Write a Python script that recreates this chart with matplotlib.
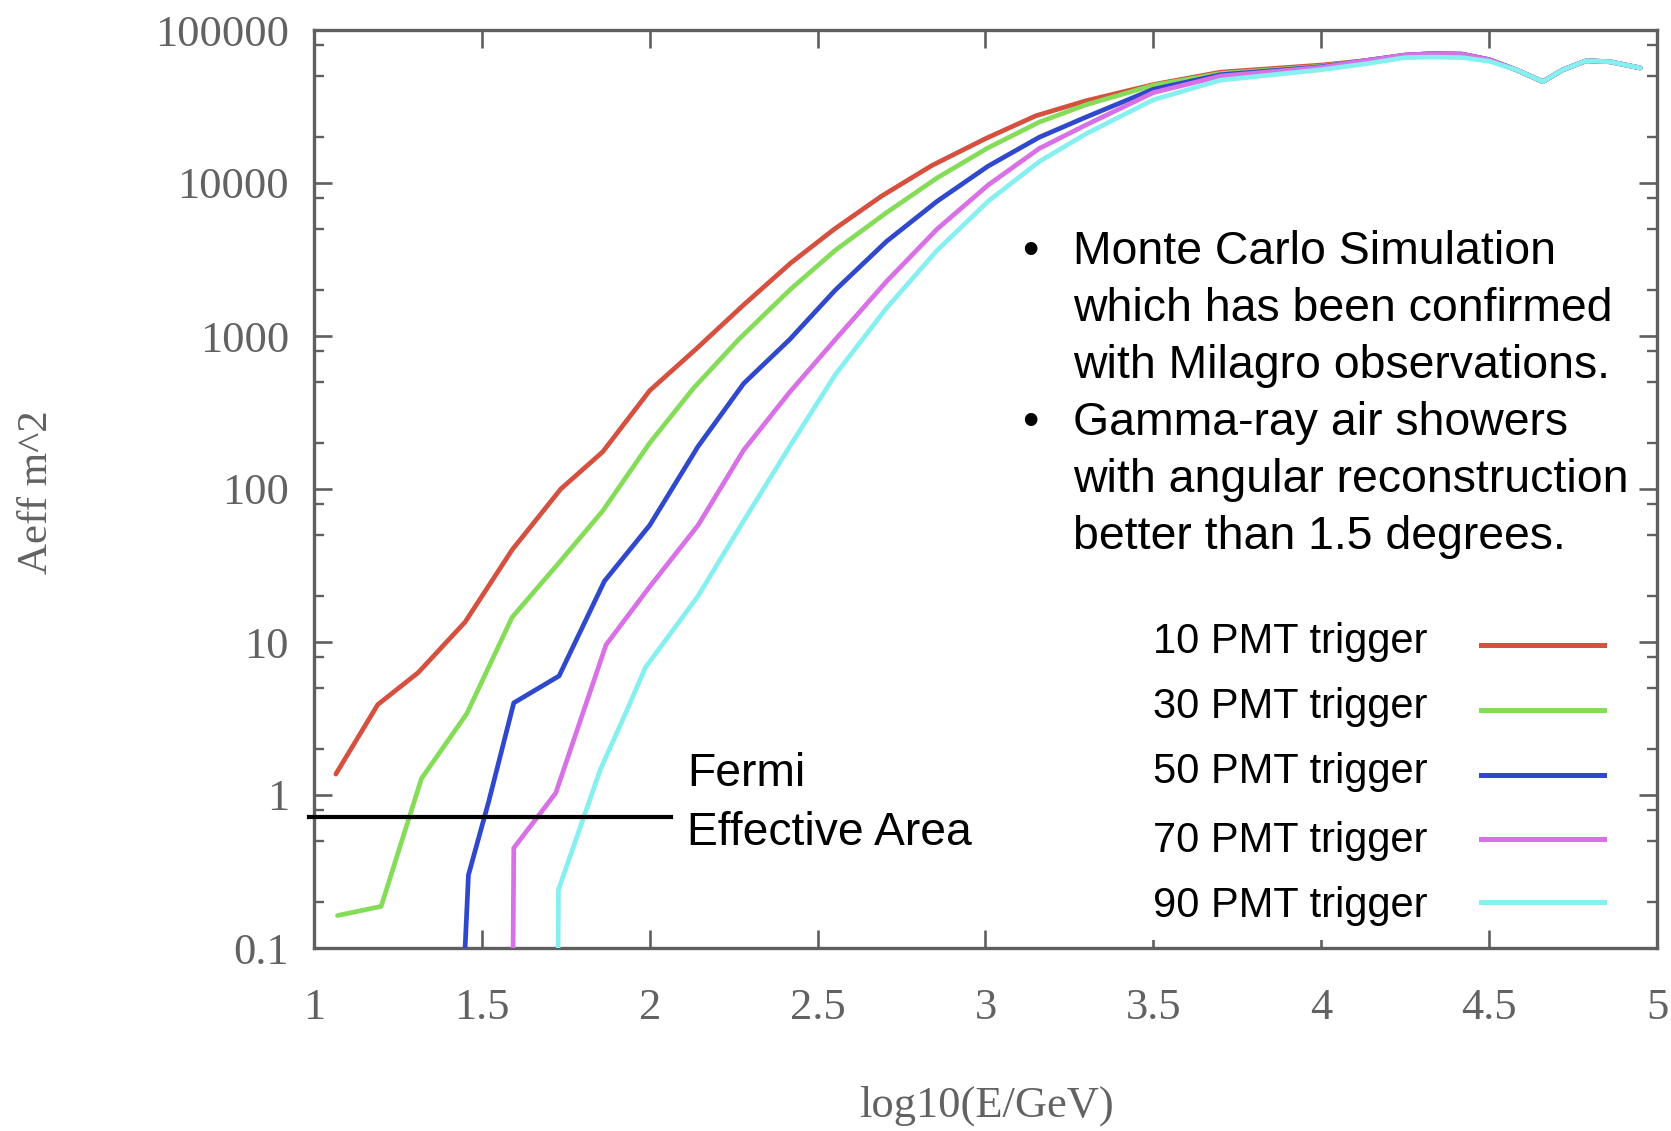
import matplotlib
matplotlib.use("Agg")
import matplotlib.pyplot as plt
from matplotlib.ticker import FixedLocator, FixedFormatter, NullFormatter
from matplotlib.patches import Rectangle
from matplotlib.lines import Line2D

# ---------------- data ----------------
labels = ["10 PMT trigger", "30 PMT trigger", "50 PMT trigger",
          "70 PMT trigger", "90 PMT trigger"]
colors = ["#d5503e", "#84dc58", "#2f48cc", "#d870e6", "#86efef"]

tail_x = [4.13, 4.25, 4.33, 4.42, 4.5, 4.58, 4.66, 4.72, 4.79, 4.86, 4.95]
tail_y = [63000, 68500, 70000, 69500, 64000, 55000, 46000, 55000, 63000, 62000, 56500]

x10 = [1.065, 1.19, 1.31, 1.45, 1.59, 1.735, 1.86, 2.0, 2.14, 2.28, 2.42, 2.55,
       2.69, 2.84, 3.0, 3.15, 3.3, 3.5, 3.7, 4.0] + tail_x
y10 = [1.37, 3.9, 6.3, 13.5, 40, 100, 175, 440, 830, 1600, 3000, 5000,
       8200, 13000, 19500, 27500, 34500, 44000, 53000, 59000] + tail_y

x30 = [1.07, 1.2, 1.32, 1.455, 1.59, 1.735, 1.86, 2.0, 2.13, 2.265, 2.417, 2.553,
       2.705, 2.856, 3.008, 3.16, 3.3, 3.5, 3.7, 4.0] + tail_x
y30 = [0.163, 0.187, 1.28, 3.4, 14.5, 34, 72, 200, 455, 950, 2000, 3640,
       6400, 10800, 17000, 25000, 32500, 43500, 52000, 58000] + tail_y

x50 = [1.45, 1.46, 1.52, 1.595, 1.73, 1.865, 2.0, 2.144, 2.28, 2.417, 2.553,
       2.705, 2.856, 3.008, 3.16, 3.3, 3.5, 3.7, 4.0] + tail_x
y50 = [0.1, 0.3, 0.9, 4.0, 6.0, 25, 58, 190, 490, 950, 2000,
       4150, 7600, 12900, 19900, 27000, 41000, 51000, 57500] + tail_y

x70 = [1.593, 1.595, 1.72, 1.87, 2.0, 2.144, 2.28, 2.417, 2.553, 2.705, 2.856,
       3.008, 3.16, 3.3, 3.5, 3.7, 4.0] + tail_x
y70 = [0.1, 0.45, 1.03, 9.6, 23, 58, 180, 430, 950, 2270, 5000,
       9700, 16800, 24000, 39000, 50000, 57000] + tail_y

x90 = [1.727, 1.728, 1.853, 1.93, 1.987, 2.144, 2.28, 2.417, 2.553, 2.705, 2.856,
       3.008, 3.16, 3.3, 3.5, 3.7, 4.0, 4.13, 4.25, 4.33, 4.42, 4.5, 4.58, 4.66,
       4.72, 4.79, 4.86, 4.95]
y90 = [0.1, 0.24, 1.47, 3.5, 6.8, 20, 62, 190, 560, 1520, 3630,
       7600, 13800, 21000, 35000, 47000, 55000, 60000, 66000, 66500, 66000, 62500,
       55000, 46000, 55000, 63000, 62000, 56500]

series_x = [x10, x30, x50, x70, x90]
series_y = [y10, y30, y50, y70, y90]

fermi_x = [0.985, 2.063]
fermi_y = [0.713, 0.713]

xticks = [1, 1.5, 2, 2.5, 3, 3.5, 4, 4.5, 5]
xticklabels = ["1", "1.5", "2", "2.5", "3", "3.5", "4", "4.5", "5"]
yticks = [0.1, 1, 10, 100, 1000, 10000, 100000]
yticklabels = ["0.1", "1", "10", "100", "1000", "10000", "100000"]
yminor = [m * 10.0 ** k for k in range(-1, 5) for m in (2, 5, 8)]

bullets = ["Monte Carlo Simulation", "which has been confirmed",
           "with Milagro observations.", "Gamma-ray air showers",
           "with angular reconstruction", "better than 1.5 degrees."]
bullet_marks = [True, False, False, True, False, False]

# ---------------- figure ----------------
W, H = 1671, 1131
fig = plt.figure(figsize=(W / 100, H / 100), dpi=100)
fig.patch.set_facecolor("white")
ax = fig.add_axes([314 / W, 1 - 948 / H, (1657 - 314) / W, (948 - 30) / H])

for xs, ys, c in zip(series_x, series_y, colors):
    ax.plot(xs, ys, color=c, lw=3.4, solid_joinstyle="round",
            solid_capstyle="round", zorder=3)

ax.plot(fermi_x, fermi_y, color="black", lw=3.0, clip_on=False, zorder=4)

ax.set_yscale("log")
ax.set_xlim(1, 5)
ax.set_ylim(0.1, 100000)

ax.xaxis.set_major_locator(FixedLocator(xticks))
ax.xaxis.set_major_formatter(FixedFormatter(xticklabels))
ax.yaxis.set_major_locator(FixedLocator(yticks))
ax.yaxis.set_major_formatter(FixedFormatter(yticklabels))
ax.yaxis.set_minor_locator(FixedLocator(yminor))
ax.yaxis.set_minor_formatter(NullFormatter())
ax.xaxis.set_minor_locator(FixedLocator([]))

tick_col = "#626262"
for s in ax.spines.values():
    s.set_color("#5f5f5f")
    s.set_linewidth(2.4)
ax.tick_params(axis="both", which="major", direction="in", length=13, width=1.9,
               color="#5f5f5f", top=True, right=True, labelcolor=tick_col,
               labelsize=32)
ax.tick_params(axis="both", which="minor", direction="in", length=7, width=1.7,
               color="#5f5f5f", top=True, right=True)
ax.tick_params(axis="x", which="major", pad=29)
ax.tick_params(axis="y", which="major", pad=18)
for lab in ax.get_xticklabels() + ax.get_yticklabels():
    lab.set_family("Liberation Serif")

# axis labels
fig.text(986 / W, 1 - 1106 / H, "log10(E/GeV)", ha="center", va="center",
         fontsize=32, family="Liberation Serif", color=tick_col)
fig.text(37 / W, 1 - 492 / H, "Aeff m^2", ha="center", va="center",
         rotation=90, fontsize=31, family="Liberation Serif", color=tick_col)

# white text box behind the legend (covers some tick marks)
fig.add_artist(Rectangle((1130 / W, 1 - 940 / H), 350 / W, 350 / H,
                         transform=fig.transFigure, facecolor="white",
                         edgecolor="none", zorder=5))

# bullet text
base_lines = [264, 321, 378, 435, 492, 549]
for txt, mark, b in zip(bullets, bullet_marks, base_lines):
    fig.text(1073 / W, 1 - b / H, txt, ha="left", va="baseline", fontsize=33.4,
             family="Liberation Sans", color="black", zorder=6)
    if mark:
        fig.text(1030 / W, 1 - b / H, "\u2022", ha="center", va="baseline",
                 fontsize=33.4, family="Liberation Sans", color="black", zorder=6)

# Fermi label
fig.text(687 / W, 1 - 786 / H, "Fermi", ha="left", va="baseline", fontsize=33.3,
         family="Liberation Sans", color="black", zorder=6)
fig.text(687 / W, 1 - 845 / H, "Effective Area", ha="left", va="baseline",
         fontsize=33.3, family="Liberation Sans", color="black", zorder=6)

# legend
leg_base = [653, 718, 783, 852, 917]
leg_line = [645, 710, 775, 839, 902]
for lab, c, b, ly in zip(labels, colors, leg_base, leg_line):
    fig.text(1153 / W, 1 - b / H, lab, ha="left", va="baseline", fontsize=30,
             family="Liberation Sans", color="black", zorder=6)
    fig.add_artist(Line2D([1481 / W, 1604 / W], [1 - ly / H, 1 - ly / H],
                          transform=fig.transFigure, color=c, lw=3.6,
                          zorder=7))

fig.savefig("out.png", dpi=100, facecolor="white")
